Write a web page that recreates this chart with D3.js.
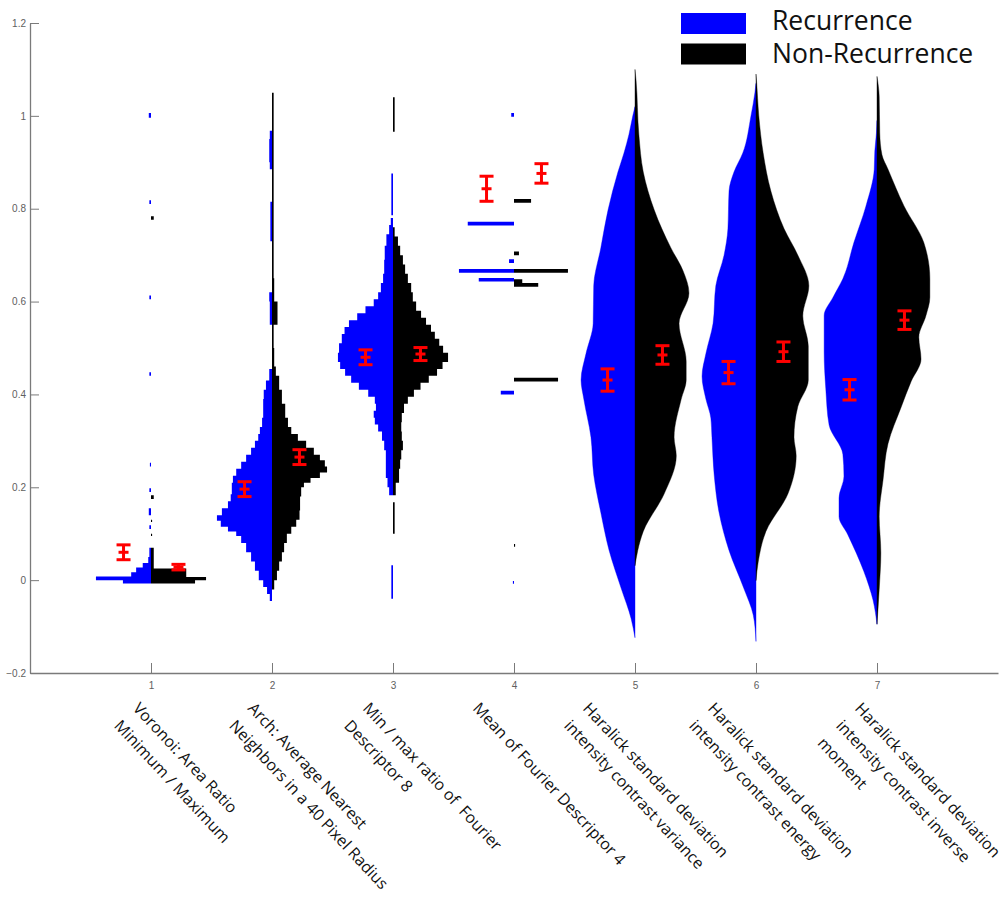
<!DOCTYPE html>
<html><head><meta charset="utf-8">
<script src="https://cdn.jsdelivr.net/npm/d3@7"></script>
<style>body{margin:0;background:#fff} svg{display:block}</style>
</head><body><svg id="c" width="1008" height="901"></svg>
<script>
// ---------------- DATA ----------------
const categories = [1, 2, 3, 4, 5, 6, 7];
const categoryLabels = [
  ["Voronoi: Area Ratio", "Minimum / Maximum"],
  ["Arch: Average Nearest", "Neighbors in a 40 Pixel Radius"],
  ["Min / max ratio of  Fourier", "Descriptor 8"],
  ["Mean of Fourier Descriptor 4"],
  ["Haralick standard deviation", "intensity contrast variance"],
  ["Haralick standard deviation", "intensity contrast energy"],
  ["Haralick standard deviation", "intensity contrast inverse", "moment"]
];
const yTickValues = [-0.2, 0, 0.2, 0.4, 0.6, 0.8, 1, 1.2];
const seriesNames = ["Recurrence", "Non-Recurrence"];

// histogram profiles: [value, relative density]
const rec1 = [[-0.007,.51],[0,1],[0.008,.36],[0.017,.27],[0.027,.15],[0.037,.05],[0.05,.03],[0.07,0],
  [0.11,.03],[0.118,0],[0.14,.04],[0.155,0],[0.19,.03],[0.198,0],[0.245,.02],[0.253,0],[0.44,.03],[0.448,0],
  [0.605,.03],[0.613,0],[0.81,.03],[0.818,0],[0.996,.04],[1.006,0]];
const non1 = [[-0.007,.8],[0,1],[0.007,.64],[0.025,.05],[0.07,0],[0.095,.02],[0.1,0],[0.125,.02],[0.13,0],
  [0.175,.05],[0.183,0],[0.776,.05],[0.784,0]];
const rec2 = [[-0.045,.04],[-0.03,.09],[-0.015,.16],[0,.24],[0.02,.31],[0.04,.38],[0.06,.47],[0.08,.56],[0.095,.65],
  [0.105,.8],[0.115,.93],[0.128,1],[0.14,.91],[0.155,.8],[0.17,.75],[0.185,.73],[0.21,.71],[0.225,.65],[0.24,.56],
  [0.255,.47],[0.27,.38],[0.285,.31],[0.3,.25],[0.315,.22],[0.33,.18],[0.35,.16],[0.39,.15],[0.41,.11],[0.43,.05],
  [0.455,0],[0.55,.04],[0.6,.05],[0.62,0],[0.73,.03],[0.815,0],[0.885,.04],[0.9,.05],[0.95,.04],[0.968,0]];
const non2 = [[-0.02,.04],[0,.09],[0.02,.13],[0.04,.18],[0.06,.22],[0.08,.27],[0.1,.35],[0.115,.44],[0.13,.5],
  [0.15,.51],[0.18,.53],[0.2,.58],[0.21,.7],[0.22,.87],[0.232,1],[0.245,.96],[0.258,.87],[0.27,.76],[0.285,.62],
  [0.3,.47],[0.315,.35],[0.33,.29],[0.35,.24],[0.38,.18],[0.41,.13],[0.44,.07],[0.46,.04],[0.5,.03],[0.55,.1],
  [0.6,.04],[0.65,.03],[1.05,0]];
const rec3 = [[-0.04,.03],[0.032,0],[0.183,.07],[0.2,.1],[0.22,.13],[0.24,.13],[0.26,.13],[0.28,.16],[0.3,.2],
  [0.32,.27],[0.335,.33],[0.35,.35],[0.365,.31],[0.38,.33],[0.395,.45],[0.41,.62],[0.425,.76],[0.44,.87],[0.455,.96],
  [0.47,1],[0.49,.98],[0.51,.93],[0.53,.88],[0.545,.8],[0.56,.65],[0.575,.5],[0.59,.35],[0.605,.27],[0.62,.22],
  [0.64,.18],[0.66,.16],[0.69,.15],[0.72,.12],[0.745,.07],[0.765,.04],[0.78,0],[0.786,.03],[0.876,0]];
const non3 = [[0.1,.03],[0.168,0],[0.183,.05],[0.21,.11],[0.24,.13],[0.26,.15],[0.28,.18],[0.3,.16],[0.32,.15],
  [0.34,.16],[0.36,.2],[0.38,.27],[0.395,.38],[0.41,.5],[0.425,.65],[0.44,.8],[0.455,.9],[0.47,1],[0.49,.91],
  [0.505,.84],[0.52,.76],[0.535,.69],[0.55,.6],[0.565,.51],[0.58,.42],[0.6,.36],[0.62,.33],[0.64,.27],[0.66,.22],
  [0.68,.18],[0.7,.13],[0.72,.09],[0.74,.03],[0.76,0],[0.966,.03],[1.04,0]];
const rec4 = [[-0.008,.02],[-0.002,0],[0.4,.24],[0.408,0],[0.643,.64],[0.651,0],[0.662,1],[0.67,0],
  [0.683,.09],[0.691,0],[0.764,.84],[0.772,0],[0.998,.05],[1.006,0]];
const non4 = [[0.072,.02],[0.078,0],[0.428,.8],[0.436,0],[0.632,.44],[0.64,.15],[0.648,0],[0.662,.98],[0.67,0],
  [0.7,.09],[0.708,0],[0.813,.31],[0.821,0]];
const rec5 = [[-0.124,0],[-0.083,.07],[-0.018,.25],[0.064,.47],[0.145,.62],[0.227,.75],[0.308,.8],[0.39,.93],
  [0.431,.98],[0.488,.89],[0.553,.76],[0.634,.75],[0.716,.62],[0.797,.49],[0.879,.31],[0.92,.2],[0.96,.11],
  [1.0,.04],[1.02,0]];
const non5 = [[0.031,0],[0.064,.05],[0.105,.15],[0.186,.53],[0.268,.75],[0.308,.71],[0.39,.84],[0.431,.93],
  [0.471,.93],[0.553,.8],[0.618,.98],[0.667,.87],[0.716,.65],[0.797,.35],[0.879,.15],[0.96,.07],[1.075,.02],[1.1,0]];
const rec6 = [[-0.132,0],[-0.075,.05],[-0.018,.22],[0.064,.49],[0.145,.67],[0.227,.76],[0.308,.8],[0.349,.82],
  [0.39,.91],[0.439,.98],[0.488,.91],[0.553,.78],[0.634,.73],[0.7,.58],[0.757,.51],[0.838,.49],[0.879,.4],
  [0.92,.24],[1.001,.09],[1.05,.02],[1.07,0]];
const non6 = [[-0.001,0],[0.039,.04],[0.105,.18],[0.186,.58],[0.268,.73],[0.308,.69],[0.374,.76],[0.431,.95],
  [0.504,.95],[0.569,.85],[0.634,.96],[0.7,.76],[0.757,.51],[0.838,.27],[0.92,.13],[1.001,.05],[1.075,.01],[1.09,0]];
const rec7 = [[-0.095,0],[-0.044,.07],[0.019,.24],[0.098,.53],[0.137,.69],[0.177,.69],[0.224,.6],[0.271,.62],
  [0.334,.87],[0.412,.93],[0.491,.96],[0.57,.96],[0.609,.8],[0.649,.62],[0.727,.42],[0.806,.2],[0.885,.05],
  [0.924,.04],[0.963,.01],[0.99,0]];
const non7 = [[-0.095,0],[-0.02,.04],[0.059,.07],[0.137,.04],[0.216,.11],[0.294,.2],[0.373,.44],[0.428,.62],
  [0.476,.8],[0.523,.76],[0.57,.89],[0.609,.96],[0.649,.96],[0.727,.85],[0.806,.49],[0.885,.2],[0.916,.09],
  [0.963,.05],[1.042,.04],[1.085,0]];

// mean +/- standard error
const recMean = [0.060, 0.196, 0.480, 0.843, 0.431, 0.447, 0.410];
const recSem  = [0.016, 0.016, 0.016, 0.027, 0.024, 0.024, 0.022];
const nonMean = [0.028, 0.265, 0.487, 0.876, 0.485, 0.492, 0.560];
const nonSem  = [0.006, 0.016, 0.014, 0.021, 0.020, 0.021, 0.020];

const recProfiles = [rec1, rec2, rec3, rec4, rec5, rec6, rec7];
const nonProfiles = [non1, non2, non3, non4, non5, non6, non7];

// ---------------- LAYOUT / STYLE ----------------
const colors = {rec: "#0000ff", non: "#000000", err: "#ff0000", axis: "#7a7a7a", tick: "#606060"};
const labelNudge = [-19, -25, -31, -42, -53, -49, -23];

const svg = d3.select("#c");
const x = d3.scaleLinear().domain([0, 8]).range([30, 998]);
const y = d3.scaleLinear().domain([-0.2, 1.2]).range([673, 23]);
const unit = x(1) - x(0);
const w = d3.scaleLinear().domain([0, 1]).range([0, 0.455 * unit]);

// axes
const yAxis = d3.axisLeft(y).tickValues(yTickValues).tickSizeInner(-9).tickSizeOuter(0).tickPadding(4)
  .tickFormat(d => d3.format("~g")(d));
const gy = svg.append("g").attr("transform", `translate(${x(0)},0)`).call(yAxis);
const xAxis = d3.axisBottom(x).tickValues(categories).tickSizeInner(-10).tickSizeOuter(0).tickPadding(9)
  .tickFormat(d3.format("d"));
const gx = svg.append("g").attr("transform", `translate(0,${y(-0.2)})`).call(xAxis);
[gx, gy].forEach(g => {
  g.select(".domain").attr("stroke", colors.axis).attr("stroke-width", 1.3);
  g.selectAll(".tick line").attr("stroke", colors.axis);
  g.selectAll(".tick text").attr("fill", colors.tick)
    .style("font-family", "'Liberation Sans Narrow','Liberation Sans',Arial,sans-serif").style("font-size", "10px");
});

// violins
const plot = svg.append("g");
categories.forEach((c, i) => {
  const stepped = i < 4;
  const curve = stepped ? d3.curveStepBefore : d3.curveMonotoneY;
  const cx = x(c);
  const sorted = p => d3.sort(p, d => d[0]);
  const left = d3.area().y(d => y(d[0])).x0(cx).x1(d => cx - w(d[1])).curve(curve);
  const right = d3.area().y(d => y(d[0])).x0(cx).x1(d => cx + w(d[1])).curve(curve);
  plot.append("path").attr("d", left(sorted(recProfiles[i]))).attr("fill", colors.rec)
    .attr("stroke", stepped ? "none" : colors.rec).attr("stroke-width", 0.4);
  plot.append("path").attr("d", right(sorted(nonProfiles[i]))).attr("fill", colors.non)
    .attr("stroke", stepped ? "none" : colors.non).attr("stroke-width", 0.4);
});

// error bars
const eb = svg.append("g").attr("stroke", colors.err).attr("stroke-width", 3).attr("fill", "none");
function errBar(cx, m, s) {
  eb.append("line").attr("x1", cx).attr("x2", cx).attr("y1", y(m - s)).attr("y2", y(m + s));
  eb.append("line").attr("x1", cx - 7).attr("x2", cx + 7).attr("y1", y(m - s)).attr("y2", y(m - s));
  eb.append("line").attr("x1", cx - 7).attr("x2", cx + 7).attr("y1", y(m + s)).attr("y2", y(m + s));
  eb.append("line").attr("x1", cx - 5).attr("x2", cx + 5).attr("y1", y(m)).attr("y2", y(m));
}
categories.forEach((c, i) => {
  errBar(x(c - 0.227), recMean[i], recSem[i]);
  errBar(x(c + 0.227), nonMean[i], nonSem[i]);
});

// category labels
categories.forEach((c, i) => {
  const g = svg.append("g").attr("transform", `translate(${x(c) + labelNudge[i]},709) rotate(47)`);
  categoryLabels[i].forEach((line, k) => {
    g.append("text").attr("x", 0).attr("y", k * 25.5).text(line)
      .style("font-family", "'Open Sans',sans-serif").style("font-size", "16px")
      .style("white-space", "pre").attr("fill", "#111");
  });
});

// legend
const leg = svg.append("g");
[colors.rec, colors.non].forEach((col, k) => {
  leg.append("rect").attr("x", 681).attr("y", 13 + k * 30.5).attr("width", 65).attr("height", 21).attr("fill", col);
  leg.append("text").attr("x", 772).attr("y", 30 + k * 33).text(seriesNames[k])
    .style("font-family", "'Open Sans',sans-serif").style("font-size", "26.5px").attr("fill", "#111");
});
</script></body></html>
